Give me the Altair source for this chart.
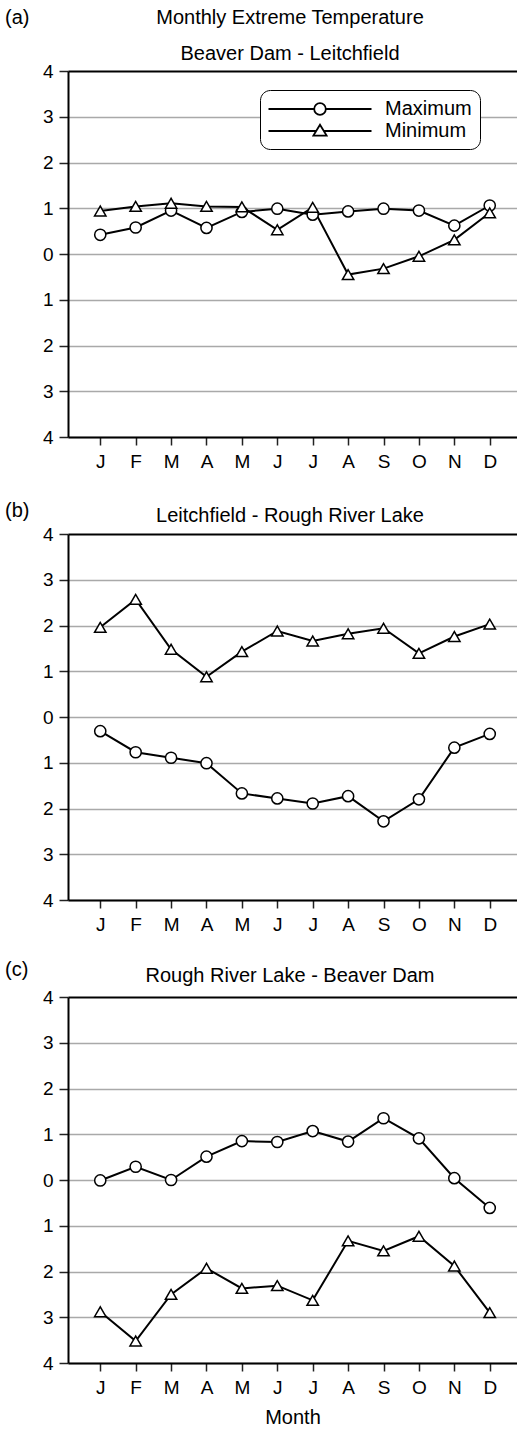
import json

import altair as alt
import pandas as pd

# ---- values -------------------------------------------------------------
month_labels = ["J", "F", "M", "A", "M", "J", "J", "A", "S", "O", "N", "D"]
month_nums = list(range(1, 13))
series_names = ["Maximum", "Minimum"]
panel_tags = ["(a)", "(b)", "(c)"]
figure_heading = "Monthly Extreme Temperature"
panel_titles = [
    "Beaver Dam - Leitchfield",
    "Leitchfield - Rough River Lake",
    "Rough River Lake - Beaver Dam",
]

a_max = [0.42, 0.58, 0.95, 0.57, 0.92, 0.99, 0.86, 0.93, 0.99, 0.95, 0.62, 1.06]
a_min = [0.94, 1.04, 1.11, 1.04, 1.03, 0.53, 1.02, -0.45, -0.32, -0.05, 0.31, 0.90]
b_max = [-0.31, -0.77, -0.89, -1.01, -1.67, -1.78, -1.89, -1.73, -2.28, -1.80, -0.67, -0.37]
b_min = [1.96, 2.57, 1.48, 0.88, 1.43, 1.88, 1.66, 1.82, 1.94, 1.39, 1.76, 2.03]
c_max = [-0.01, 0.29, 0.00, 0.51, 0.85, 0.83, 1.07, 0.84, 1.35, 0.91, 0.04, -0.61]
c_min = [-2.88, -3.52, -2.50, -1.93, -2.37, -2.31, -2.63, -1.33, -1.55, -1.23, -1.88, -2.90]

y_ticks = list(range(-4, 5))

# ---- styling ------------------------------------------------------------
FONT = "Liberation Sans"
PLOT_W = 449
PLOT_H = 366
GRID = "#a9a9a9"
TITLE_X = 222  # horizontal centre of the panel headings

x_scale = alt.Scale(domain=[0.089, 12.77], nice=False, zero=False)
y_scale = alt.Scale(domain=[-4, 4], nice=False, zero=False)

month_expr = json.dumps(month_labels) + "[datum.value - 1]"

# legend glyphs: a long horizontal line broken by the marker
# (symbol size 400 -> 10 px per path unit)
legend_circle = (
    "M-5.15,0L-0.58,0M0.58,0L5.15,0"
    "M0.58,0A0.58,0.58 0 1,1 -0.58,0A0.58,0.58 0 1,1 0.58,0Z"
)
legend_triangle = (
    "M-5.15,0L-0.37,0M0.37,0L5.15,0"
    "M0,-0.62L-0.66,0.46L0.66,0.46Z"
)


def text_layer(label, x, y, align):
    return (
        alt.Chart(pd.DataFrame({"t": [label]}))
        .mark_text(align=align, baseline="alphabetic", fontSize=20, font=FONT, color="black")
        .encode(x=alt.value(x), y=alt.value(y), text="t:N")
    )


def panel(idx, max_vals, min_vals, tag_y, title_y, show_legend=False, x_title=None):
    df = pd.DataFrame(
        {
            "month": month_nums * 2,
            "value": max_vals + min_vals,
            "series": [series_names[0]] * 12 + [series_names[1]] * 12,
        }
    )
    base = alt.Chart(df)

    x_enc = alt.X(
        "month:Q",
        scale=x_scale,
        axis=alt.Axis(
            values=month_nums,
            labelExpr=month_expr,
            grid=False,
            tickSize=8,
            tickWidth=1.5,
            tickColor="#222",
            domainColor="black",
            domainWidth=2,
            labelFontSize=19,
            labelPadding=7,
            labelColor="black",
            title=x_title,
            titleFontSize=20,
            titleFontWeight="normal",
            titleColor="black",
            titlePadding=10,
        ),
    )
    y_enc = alt.Y(
        "value:Q",
        scale=y_scale,
        axis=alt.Axis(
            values=y_ticks,
            labelExpr="abs(datum.value)",
            grid=True,
            gridColor={"condition": {"test": "datum.value == 4", "value": "black"}, "value": GRID},
            gridWidth={"condition": {"test": "datum.value == 4", "value": 2}, "value": 1.5},
            tickSize=9,
            tickWidth=1.5,
            tickColor="#222",
            domainColor="black",
            domainWidth=2,
            labelFontSize=19,
            labelPadding=6,
            labelColor="black",
            title=None,
        ),
    )

    lines = base.mark_line(color="black", strokeWidth=2).encode(
        x=x_enc, y=y_enc, detail="series:N"
    )
    circles = (
        base.transform_filter(alt.datum.series == series_names[0])
        .mark_point(
            shape="circle", filled=True, fill="white", stroke="black",
            strokeWidth=1.5, size=125, opacity=1,
        )
        .encode(x="month:Q", y="value:Q")
    )
    triangles = (
        base.transform_filter(alt.datum.series == series_names[1])
        .mark_point(
            shape="triangle-up", filled=True, fill="white", stroke="black",
            strokeWidth=1.5, size=130, opacity=1,
        )
        .encode(x="month:Q", y="value:Q")
    )

    layers = [
        lines,
        circles,
        triangles,
        text_layer(panel_tags[idx], -63, tag_y, "left"),
        text_layer(panel_titles[idx], TITLE_X, title_y, "center"),
    ]
    if idx == 0:
        layers.append(text_layer(figure_heading, TITLE_X, -47, "center"))

    if show_legend:
        key = base.mark_point(opacity=0).encode(
            x="month:Q",
            y="value:Q",
            shape=alt.Shape(
                "series:N",
                scale=alt.Scale(domain=series_names, range=[legend_circle, legend_triangle]),
                legend=alt.Legend(
                    title=None,
                    orient="none",
                    legendX=192,
                    legendY=19,
                    symbolSize=400,
                    symbolOffset=41,
                    symbolFillColor="white",
                    symbolStrokeColor="black",
                    symbolStrokeWidth=1.8,
                    symbolOpacity=1,
                    labelFont=FONT,
                    labelFontSize=20,
                    labelColor="black",
                    labelOffset=54,
                    strokeColor="black",
                    fillColor="white",
                    cornerRadius=10,
                    padding=8,
                    rowPadding=1,
                ),
            ),
        )
        layers.append(key)

    return alt.layer(*layers).properties(width=PLOT_W, height=PLOT_H)


chart = (
    alt.vconcat(
        panel(0, a_max, a_min, -47, -11, show_legend=True),
        panel(1, b_max, b_min, -17, -12),
        panel(2, c_max, c_min, -21, -15, x_title="Month"),
        spacing=97,
        bounds="flush",
    )
    .properties(padding={"left": 5, "top": 8, "right": 0, "bottom": 2})
    .configure(font=FONT)
    .configure_view(stroke=None)
)

chart.save("out.html", embed_options={"renderer": "svg", "actions": False})
